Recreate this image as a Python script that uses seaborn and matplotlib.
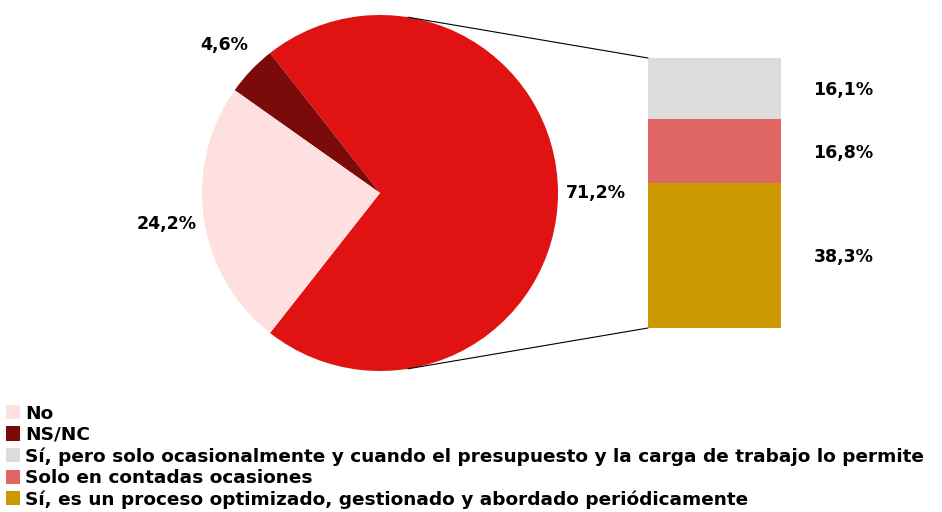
import numpy as np
import seaborn as sns
import matplotlib.pyplot as plt
from matplotlib.patches import Patch, ConnectionPatch

# datos del gráfico
pie_labels = ['Sí', 'NS/NC', 'No']
pie_values = [71.2, 4.6, 24.2]
pie_colors = ['#E11212', '#7B0B0B', '#FFE0E0']

bar_labels = ['Sí, es un proceso optimizado, gestionado y abordado periódicamente',
              'Solo en contadas ocasiones',
              'Sí, pero solo ocasionalmente y cuando el presupuesto y la carga de trabajo lo permite']
bar_values = [38.3, 16.8, 16.1]
bar_colors = ['#CC9900', '#E06666', '#DCDCDC']

legend_labels = ['No', 'NS/NC',
                 'Sí, pero solo ocasionalmente y cuando el presupuesto y la carga de trabajo lo permite',
                 'Solo en contadas ocasiones',
                 'Sí, es un proceso optimizado, gestionado y abordado periódicamente']
legend_colors = ['#FFE0E0', '#7B0B0B', '#DCDCDC', '#E06666', '#CC9900']


def fmt_pct(v):
    return f'{v:.1f}%'.replace('.', ',')


sns.set_theme(style='white')
plt.rcParams['font.family'] = ['DejaVu Sans']
plt.rcParams['font.weight'] = 'bold'
plt.rcParams['text.color'] = 'black'

W, H = 942, 512
fig = plt.figure(figsize=(W / 100, H / 100), dpi=100)

# tarta principal
ax_pie = fig.add_axes([202 / W, (H - 371) / H, 356 / W, 356 / H])
half = pie_values[0] / sum(pie_values) * 360 / 2
ax_pie.pie(pie_values, colors=pie_colors, startangle=-half, counterclock=True,
           autopct=lambda p: fmt_pct(p), pctdistance=1.21,
           textprops={'fontsize': 12.5, 'fontweight': 'bold', 'color': 'black'},
           wedgeprops={'linewidth': 0})
ax_pie.set_xlim(-1, 1)
ax_pie.set_ylim(-1, 1)
ax_pie.set_aspect('equal')
ax_pie.axis('off')

# barra apilada (seaborn, capas acumuladas)
ax_bar = fig.add_axes([648 / W, (H - 328) / H, 133 / W, 270 / H])
cum = np.cumsum(bar_values)
for i in range(len(bar_values) - 1, -1, -1):
    sns.barplot(x=[0], y=[cum[i]], color=bar_colors[i], width=1.0,
                saturation=1, ax=ax_bar, linewidth=0)
ax_bar.set_xlim(-0.5, 0.5)
ax_bar.set_ylim(0, cum[-1])
ax_bar.axis('off')
for v, c in zip(bar_values, cum):
    ax_bar.text(1.47, c - v / 2 - 0.5, fmt_pct(v), transform=ax_bar.get_yaxis_transform(),
                ha='center', va='center', fontsize=12.5, fontweight='bold',
                color='black', clip_on=False)

# líneas de conexión
ang = np.deg2rad(81)
for sgn, yb in [(1, cum[-1]), (-1, 0)]:
    con = ConnectionPatch(xyA=(np.cos(ang), sgn * np.sin(ang)), coordsA=ax_pie.transData,
                          xyB=(-0.5, yb), coordsB=ax_bar.transData,
                          color='black', linewidth=0.8)
    fig.add_artist(con)

handles = [Patch(facecolor=c, edgecolor='none') for c in legend_colors]
leg = fig.legend(handles, legend_labels, loc='upper left', bbox_to_anchor=(0.0, 1 - 399 / H),
                 frameon=False, handlelength=0.8, handleheight=0.8,
                 handletextpad=0.28, labelspacing=0.18, borderaxespad=0, borderpad=0.3,
                 prop={'weight': 'bold', 'size': 13.3, 'family': 'DejaVu Sans'})
for t in leg.get_texts():
    t.set_color('black')

fig.savefig('out.png', dpi=100)
